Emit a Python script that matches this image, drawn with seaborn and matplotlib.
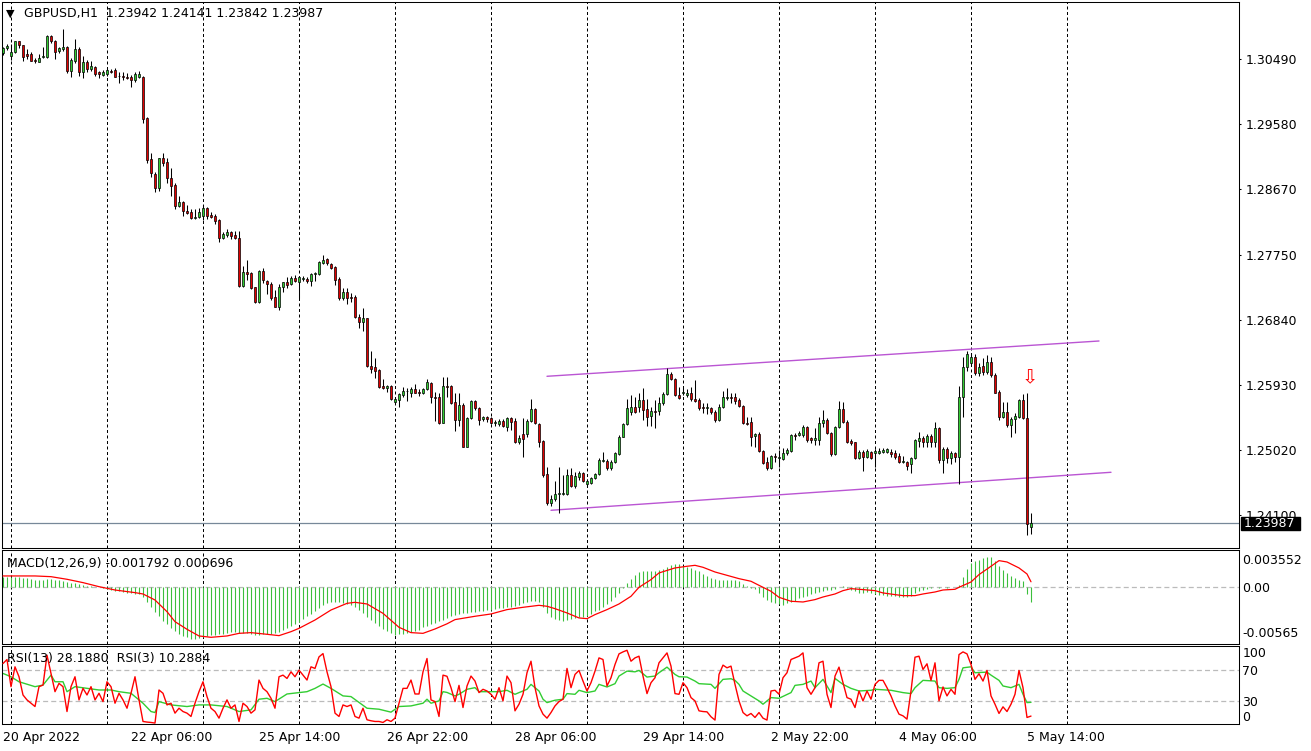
import numpy as np
import matplotlib
matplotlib.use("Agg")
import matplotlib.pyplot as plt
from matplotlib.patches import Rectangle
from matplotlib.transforms import IdentityTransform
import seaborn as sns

# ---------------- data ----------------
symbol_title = "GBPUSD,H1  1.23942 1.24141 1.23842 1.23987"
macd_title = "MACD(12,26,9) -0.001792 0.000696"
rsi_title = "RSI(13) 28.1880  RSI(3) 10.2884"

open_ = [
 1.30574,1.30644,1.30532,1.30588,1.30742,1.30686,1.30560,1.30560,1.30469,1.30448,
 1.30518,1.30518,1.30812,1.30742,1.30602,1.30630,1.30658,1.30322,1.30462,1.30630,
 1.30308,1.30448,1.30350,1.30378,1.30308,1.30266,1.30280,1.30322,1.30336,1.30252,
 1.30248,1.30238,1.30238,1.30196,1.30238,1.30238,1.29664,1.29090,1.28880,1.28684,
 1.29104,1.29048,1.28824,1.28726,1.28432,1.28488,1.28362,1.28348,1.28264,1.28278,
 1.28292,1.28404,1.28306,1.28292,1.28236,1.27984,1.28026,1.28068,1.28026,1.27984,
 1.27312,1.27508,1.27494,1.27298,1.27088,1.27522,1.27382,1.27340,1.27158,1.27018,
 1.27298,1.27368,1.27340,1.27424,1.27368,1.27410,1.27410,1.27382,1.27480,1.27480,
 1.27634,1.27690,1.27620,1.27578,1.27410,1.27144,1.27228,1.27158,1.27158,1.26878,
 1.26808,1.26864,1.26192,1.26178,1.26136,1.25912,1.25891,1.25912,1.25688,1.25716,
 1.25786,1.25842,1.25814,1.25870,1.25828,1.25814,1.25870,1.25954,1.25758,1.25758,
 1.25394,1.25912,1.25912,1.25688,1.25436,1.25646,1.25058,1.25464,1.25702,1.25604,
 1.25450,1.25478,1.25464,1.25394,1.25380,1.25422,1.25338,1.25464,1.25422,1.25128,
 1.25240,1.25240,1.25422,1.25590,1.25380,1.25142,1.24680,1.24274,1.24330,1.24400,
 1.24400,1.24400,1.24666,1.24512,1.24638,1.24694,1.24540,1.24554,1.24624,1.24680,
 1.24862,1.24862,1.24764,1.24848,1.24960,1.25198,1.25380,1.25548,1.25618,1.25618,
 1.25716,1.25590,1.25492,1.25562,1.25562,1.25674,1.25800,1.26080,1.26010,1.25786,
 1.25814,1.25786,1.25814,1.25730,1.25716,1.25618,1.25604,1.25604,1.25548,1.25436,
 1.25618,1.25744,1.25758,1.25758,1.25716,1.25632,1.25394,1.25408,1.25212,1.25240,
 1.25002,1.24848,1.24764,1.24932,1.24904,1.24890,1.24974,1.25002,1.25226,1.25226,
 1.25226,1.25338,1.25184,1.25156,1.25156,1.25394,1.25436,1.25254,1.24960,1.25338,
 1.25590,1.25408,1.25142,1.25128,1.24904,1.24988,1.24918,1.24988,1.24974,1.24974,
 1.24988,1.24988,1.24988,1.24974,1.24932,1.24848,1.24848,1.24820,1.24904,1.25142,
 1.25184,1.25128,1.25212,1.25128,1.25324,1.24876,1.25030,1.24904,1.24974,1.24918,
 1.25758,1.26178,1.26234,1.26318,1.26094,1.26192,1.26108,1.26248,1.26066,1.25828,
 1.25478,1.25548,1.25366,1.25450,1.25478,1.25716,1.25464,1.23942]

high = [
 1.30658,1.30700,1.30700,1.30749,1.30749,1.30690,1.30630,1.30588,1.30504,1.30560,
 1.30658,1.30826,1.30826,1.30756,1.30658,1.30910,1.30665,1.30504,1.30770,1.30658,
 1.30532,1.30476,1.30462,1.30392,1.30322,1.30336,1.30364,1.30350,1.30364,1.30308,
 1.30308,1.30294,1.30266,1.30308,1.30322,1.30252,1.29678,1.29174,1.28908,1.29111,
 1.29174,1.29104,1.28964,1.28754,1.28572,1.28495,1.28446,1.28390,1.28390,1.28404,
 1.28446,1.28418,1.28348,1.28320,1.28250,1.28068,1.28110,1.28082,1.28082,1.28082,
 1.27592,1.27676,1.27508,1.27305,1.27529,1.27564,1.27396,1.27368,1.27256,1.27340,
 1.27375,1.27438,1.27452,1.27466,1.27445,1.27452,1.27438,1.27494,1.27508,1.27655,
 1.27746,1.27704,1.27634,1.27592,1.27438,1.27284,1.27284,1.27214,1.27186,1.26920,
 1.27004,1.26871,1.26402,1.26304,1.26150,1.26010,1.25926,1.25919,1.25758,1.25814,
 1.25898,1.25884,1.25898,1.25940,1.25870,1.25884,1.26010,1.25968,1.25828,1.25814,
 1.26038,1.26038,1.25926,1.25814,1.25814,1.25674,1.25478,1.25716,1.25716,1.25618,
 1.25492,1.25492,1.25478,1.25436,1.25450,1.25450,1.25478,1.25478,1.25464,1.25226,
 1.25464,1.25450,1.25730,1.25597,1.25394,1.25156,1.24778,1.24386,1.24582,1.24778,
 1.24666,1.24750,1.24764,1.24708,1.24722,1.24708,1.24610,1.24638,1.24694,1.24904,
 1.24988,1.24890,1.24876,1.24981,1.25226,1.25394,1.25730,1.25786,1.25758,1.25814,
 1.25884,1.25730,1.25618,1.25716,1.25758,1.25828,1.26164,1.26108,1.26024,1.25898,
 1.25884,1.25870,1.25898,1.25996,1.25744,1.25674,1.25674,1.25618,1.25576,1.25660,
 1.25842,1.25884,1.25814,1.25814,1.25744,1.25646,1.25478,1.25478,1.25254,1.25268,
 1.25016,1.24918,1.24946,1.24974,1.25016,1.25044,1.25044,1.25240,1.25254,1.25282,
 1.25366,1.25352,1.25198,1.25324,1.25478,1.25576,1.25464,1.25268,1.25352,1.25702,
 1.25688,1.25436,1.25170,1.25135,1.25016,1.25016,1.25030,1.25002,1.25030,1.25044,
 1.25044,1.25044,1.25030,1.25016,1.24974,1.24932,1.24855,1.24918,1.25170,1.25268,
 1.25212,1.25240,1.25240,1.25408,1.25338,1.25058,1.25058,1.25002,1.24988,1.25912,
 1.26318,1.26402,1.26374,1.26360,1.26234,1.26304,1.26346,1.26318,1.26094,1.25856,
 1.25688,1.25688,1.25478,1.25534,1.25730,1.25800,1.25814,1.24141]

low = [
 1.30546,1.30616,1.30476,1.30574,1.30644,1.30462,1.30490,1.30455,1.30434,1.30441,
 1.30511,1.30504,1.30714,1.30490,1.30574,1.30602,1.30294,1.30238,1.30434,1.30252,
 1.30224,1.30308,1.30322,1.30252,1.30224,1.30252,1.30252,1.30294,1.30231,1.30154,
 1.30196,1.30210,1.30098,1.30168,1.30224,1.29594,1.29034,1.28838,1.28628,1.28642,
 1.28992,1.28754,1.28572,1.28390,1.28418,1.28292,1.28320,1.28250,1.28250,1.28271,
 1.28236,1.28250,1.28264,1.28180,1.27928,1.27970,1.27998,1.27970,1.27970,1.27298,
 1.27298,1.27396,1.27270,1.27074,1.27074,1.27354,1.27200,1.27116,1.27011,1.26976,
 1.27228,1.27284,1.27326,1.27368,1.27144,1.27382,1.27354,1.27312,1.27382,1.27466,
 1.27620,1.27606,1.27550,1.27326,1.27116,1.27116,1.27060,1.27088,1.26864,1.26724,
 1.26682,1.26185,1.26094,1.26024,1.25884,1.25870,1.25828,1.25716,1.25674,1.25618,
 1.25758,1.25702,1.25758,1.25807,1.25772,1.25800,1.25856,1.25674,1.25422,1.25380,
 1.25387,1.25758,1.25660,1.25282,1.25352,1.25051,1.25051,1.25450,1.25576,1.25366,
 1.25422,1.25408,1.25380,1.25352,1.25352,1.25338,1.25282,1.25296,1.25114,1.25100,
 1.24918,1.25198,1.25408,1.25380,1.25058,1.24638,1.24246,1.24232,1.24302,1.24134,
 1.24386,1.24386,1.24498,1.24484,1.24596,1.24568,1.24498,1.24540,1.24610,1.24666,
 1.24848,1.24736,1.24736,1.24834,1.24946,1.25191,1.25366,1.25506,1.25534,1.25548,
 1.25436,1.25352,1.25352,1.25324,1.25506,1.25646,1.25786,1.25996,1.25772,1.25730,
 1.25786,1.25758,1.25702,1.25688,1.25576,1.25534,1.25520,1.25520,1.25408,1.25422,
 1.25604,1.25716,1.25674,1.25660,1.25618,1.25380,1.25366,1.25072,1.25058,1.24988,
 1.24827,1.24736,1.24750,1.24848,1.24778,1.24876,1.24946,1.24988,1.25156,1.25212,
 1.25198,1.25128,1.25114,1.25086,1.25086,1.25338,1.25240,1.24932,1.24946,1.25324,
 1.25394,1.25114,1.25086,1.24890,1.24890,1.24722,1.24911,1.24890,1.24778,1.24960,
 1.24974,1.24974,1.24918,1.24890,1.24834,1.24834,1.24736,1.24694,1.24890,1.25058,
 1.25058,1.25058,1.25058,1.25058,1.24834,1.24694,1.24834,1.24820,1.24848,1.24540,
 1.25478,1.26122,1.26206,1.26066,1.26052,1.26066,1.26080,1.26038,1.25807,1.25436,
 1.25464,1.25338,1.25198,1.25254,1.25464,1.25450,1.23826,1.23842]

close = [
 1.30644,1.30672,1.30588,1.30742,1.30686,1.30518,1.30532,1.30462,1.30455,1.30504,
 1.30532,1.30812,1.30742,1.30588,1.30644,1.30658,1.30322,1.30476,1.30630,1.30308,
 1.30448,1.30350,1.30392,1.30280,1.30280,1.30308,1.30336,1.30315,1.30238,1.30248,
 1.30238,1.30217,1.30196,1.30280,1.30280,1.29650,1.29076,1.28894,1.28684,1.29104,
 1.29034,1.28824,1.28712,1.28432,1.28488,1.28362,1.28334,1.28264,1.28278,1.28348,
 1.28404,1.28292,1.28278,1.28222,1.27984,1.28040,1.28068,1.28012,1.27984,1.27312,
 1.27508,1.27480,1.27284,1.27088,1.27522,1.27396,1.27340,1.27144,1.27018,1.27298,
 1.27368,1.27326,1.27424,1.27382,1.27438,1.27424,1.27382,1.27480,1.27487,1.27648,
 1.27676,1.27634,1.27564,1.27396,1.27144,1.27228,1.27144,1.27151,1.26878,1.26808,
 1.26864,1.26192,1.26150,1.26122,1.25898,1.25891,1.25912,1.25730,1.25730,1.25800,
 1.25842,1.25835,1.25870,1.25814,1.25814,1.25870,1.25968,1.25758,1.25744,1.25394,
 1.25912,1.25905,1.25674,1.25436,1.25646,1.25058,1.25464,1.25702,1.25604,1.25436,
 1.25478,1.25450,1.25394,1.25408,1.25422,1.25352,1.25464,1.25408,1.25128,1.25184,
 1.25170,1.25422,1.25590,1.25394,1.25128,1.24666,1.24274,1.24330,1.24400,1.24414,
 1.24414,1.24666,1.24512,1.24652,1.24694,1.24582,1.24582,1.24624,1.24680,1.24876,
 1.24876,1.24764,1.24848,1.24974,1.25198,1.25380,1.25604,1.25618,1.25548,1.25716,
 1.25576,1.25478,1.25562,1.25555,1.25674,1.25800,1.26080,1.26010,1.25786,1.25744,
 1.25828,1.25814,1.25730,1.25702,1.25604,1.25597,1.25618,1.25548,1.25436,1.25618,
 1.25758,1.25758,1.25751,1.25702,1.25632,1.25394,1.25380,1.25198,1.25240,1.25002,
 1.24834,1.24764,1.24932,1.24925,1.24911,1.24974,1.25016,1.25226,1.25219,1.25254,
 1.25338,1.25156,1.25156,1.25184,1.25394,1.25436,1.25254,1.24960,1.25338,1.25590,
 1.25408,1.25128,1.25114,1.24904,1.24988,1.24918,1.25002,1.24904,1.25002,1.25002,
 1.25016,1.25030,1.24960,1.24918,1.24848,1.24862,1.24792,1.24904,1.25156,1.25184,
 1.25128,1.25212,1.25128,1.25324,1.24876,1.25030,1.24904,1.24974,1.24918,1.25758,
 1.26178,1.26360,1.26318,1.26094,1.26178,1.26108,1.26248,1.26066,1.25814,1.25478,
 1.25548,1.25366,1.25450,1.25492,1.25716,1.25464,1.23980,1.23987]

macd_hist = [
 0.00134,0.00134,0.00134,0.00130,0.00126,0.00122,0.00113,0.00101,0.00097,0.00092,
 0.00092,0.00101,0.00105,0.00092,0.00088,0.00076,0.00067,0.00059,0.00050,0.00038,
 0.00029,0.00021,0.00017,0.00008,0.00002,
 -0.00013,-0.00025,-0.00034,-0.00042,-0.00050,-0.00059,-0.00067,-0.00076,-0.00080,-0.00084,
 -0.00118,-0.00181,-0.00244,-0.00307,-0.00361,-0.00420,-0.00466,-0.00508,-0.00550,-0.00584,
 -0.00609,-0.00630,-0.00647,-0.00651,-0.00638,-0.00626,-0.00613,-0.00605,-0.00596,-0.00592,
 -0.00584,-0.00575,-0.00567,-0.00563,-0.00571,-0.00575,-0.00580,-0.00588,-0.00601,-0.00596,
 -0.00592,-0.00588,-0.00584,-0.00580,-0.00563,-0.00542,-0.00512,-0.00483,-0.00458,-0.00433,
 -0.00399,-0.00365,-0.00336,-0.00302,-0.00265,-0.00227,-0.00197,-0.00185,-0.00181,-0.00185,
 -0.00193,-0.00206,-0.00223,-0.00248,-0.00286,-0.00328,-0.00378,-0.00416,-0.00454,-0.00491,
 -0.00525,-0.00554,-0.00580,-0.00596,-0.00592,-0.00584,-0.00575,-0.00563,-0.00550,-0.00533,
 -0.00505,-0.00485,-0.00465,-0.00445,-0.00428,-0.00408,-0.00385,
 -0.00360,-0.00344,-0.00336,-0.00328,-0.00323,-0.00315,-0.00307,-0.00298,-0.00294,-0.00290,
 -0.00281,-0.00273,-0.00265,-0.00256,-0.00252,-0.00244,-0.00231,-0.00218,-0.00202,-0.00189,
 -0.00176,-0.00176,-0.00185,-0.00250,-0.00330,-0.00370,-0.00395,-0.00415,-0.00424,-0.00412,
 -0.00399,-0.00386,-0.00378,-0.00370,-0.00361,-0.00336,-0.00302,-0.00281,-0.00252,-0.00210,
 -0.00168,-0.00118,-0.00071,-0.00008,0.00055,0.00101,0.00151,0.00189,0.00202,0.00202,
 0.00202,0.00210,0.00223,0.00235,0.00260,0.00286,0.00294,0.00290,0.00265,0.00252,
 0.00244,0.00223,0.00202,0.00172,0.00143,0.00118,0.00101,0.00088,0.00092,0.00097,
 0.00097,0.00092,0.00084,0.00042,0.00013,-0.00008,-0.00025,-0.00071,-0.00122,-0.00155,
 -0.00185,-0.00197,-0.00210,-0.00218,-0.00202,-0.00181,-0.00168,-0.00139,-0.00126,-0.00105,
 -0.00088,-0.00071,-0.00055,-0.00042,-0.00034,-0.00029,-0.00017,0.00002,0.00017,-0.00008,
 -0.00029,-0.00050,-0.00067,-0.00071,-0.00059,-0.00071,-0.00088,-0.00092,-0.00101,-0.00109,
 -0.00113,-0.00113,-0.00118,-0.00118,-0.00118,-0.00109,-0.00076,-0.00046,-0.00029,-0.00017,
 -0.00008,0.00002,-0.00004,0.00001,-0.00004,0.00001,0.00002,0.00034,0.00126,0.00231,
 0.00302,0.00336,0.00349,0.00365,0.00378,0.00378,0.00328,0.00269,0.00223,0.00181,
 0.00143,0.00118,0.00097,0.00076,-0.00090,-0.001792]

signal_bars = [0, 8, 12, 16, 20, 24, 28, 33, 35, 38, 41, 43, 46, 49, 52, 56, 59, 62, 66, 69,
               72, 74, 78, 82, 86, 88, 91, 95, 99, 102, 105, 108, 111, 113, 118, 122, 126, 130,
               134, 136, 138, 141, 144, 146, 148, 151, 154, 157, 159, 162, 164, 168, 171, 173,
               175, 178, 181, 184, 187, 189, 192, 194, 197, 200, 203, 205, 208, 210, 212, 215,
               218, 220, 223, 225, 228, 230, 233, 235, 238, 239, 242, 244, 247, 249, 251, 254,
               256, 257]
signal_vals = [0.00143, 0.00143, 0.00134, 0.00101, 0.00059, 0.00008, -0.00034, -0.00067,
               -0.00084, -0.00160, -0.00307, -0.00433, -0.00529, -0.00613, -0.00630, -0.00613,
               -0.00580, -0.00571, -0.00592, -0.00609, -0.00559, -0.00517, -0.00412, -0.00286,
               -0.00202, -0.00189, -0.00210, -0.00328, -0.00504, -0.00571, -0.00580, -0.00525,
               -0.00460, -0.00407, -0.00365, -0.00336, -0.00281, -0.00252, -0.00227, -0.00239,
               -0.00269, -0.00323, -0.00386, -0.00395, -0.00344, -0.00281, -0.00210, -0.00113,
               0.00000, 0.00097, 0.00181, 0.00244, 0.00265, 0.00277, 0.00252, 0.00193, 0.00151,
               0.00109, 0.00076, 0.00025, -0.00050, -0.00126, -0.00176, -0.00185, -0.00155,
               -0.00122, -0.00084, -0.00042, -0.00017, -0.00029, -0.00042, -0.00071, -0.00092,
               -0.00105, -0.00105, -0.00084, -0.00059, -0.00034, -0.00025, 0.00000, 0.00067,
               0.00160, 0.00265, 0.00336, 0.00319, 0.00244, 0.00168, 0.000696]

rsi13_bars = [0, 2, 4, 8, 10, 12, 13, 15, 16, 18, 21, 24, 27, 29, 32, 35, 37, 38, 39, 42, 46,
              49, 52, 56, 59, 62, 64, 66, 68, 71, 74, 76, 78, 80, 82, 85, 87, 91, 94, 97, 99,
              102, 105, 106, 107, 109, 110, 111, 113, 114, 116, 118, 119, 122, 124, 126, 128,
              129, 131, 132, 134, 135, 136, 138, 140, 141, 143, 144, 146, 148, 149, 151, 153,
              154, 156, 158, 159, 161, 163, 164, 166, 168, 169, 171, 173, 174, 177, 178, 180,
              182, 183, 184, 185, 187, 189, 190, 192, 194, 197, 198, 200, 202, 203, 205, 207,
              208, 210, 212, 214, 217, 218, 222, 225, 227, 228, 230, 233, 234, 236, 238, 239,
              240, 242, 243, 246, 247, 249, 250, 252, 254, 255, 256, 257]
rsi13_vals = [65.7, 61.4, 54.9, 48.5, 50.6, 63.5, 54.9, 54.9, 42.0, 48.5, 46.3, 44.2, 44.2, 42.0,
              39.9, 27.0, 16.2, 14.9, 29.1, 24.8, 22.7, 24.8, 24.8, 22.7, 16.2, 18.4, 32.2, 33.4,
              29.1, 39.0, 40.8, 42.0, 46.3, 51.9, 46.3, 36.5, 35.6, 20.5, 19.2, 15.4, 22.7, 23.5,
              27.0, 32.2, 27.0, 30.0, 42.0, 41.0, 36.5, 38.6, 45.1, 47.2, 42.0, 42.0, 42.0, 43.8,
              38.6, 40.8, 45.1, 51.5, 42.9, 32.2, 27.8, 30.9, 32.2, 39.5, 38.6, 43.8, 40.8, 42.9,
              51.5, 48.1, 52.4, 62.3, 68.7, 67.8, 69.6, 61.0, 62.3, 66.6, 73.9, 64.4, 61.4, 61.0,
              55.8, 52.4, 51.5, 46.3, 58.0, 58.8, 56.7, 51.5, 42.9, 36.5, 30.0, 25.7, 34.3, 33.4,
              40.8, 50.2, 51.5, 55.8, 47.2, 58.0, 40.8, 59.2, 51.5, 46.3, 42.9, 43.8, 45.1, 43.8,
              40.8, 39.5, 47.2, 56.7, 55.8, 47.2, 46.3, 47.2, 58.0, 73.0, 74.3, 66.6, 67.4, 63.5,
              56.7, 49.4, 47.2, 51.5, 38.6, 27.8, 28.188]

rsi3_vals = [
 78.6,83.8,48.5,74.3,61.4,37.7,31.3,27.0,22.7,48.5,
 50.6,89.4,65.7,42.0,52.8,48.5,16.2,48.5,61.4,31.3,
 46.3,37.7,48.5,31.3,39.9,29.1,54.9,48.5,27.0,39.9,
 31.3,20.5,39.9,61.4,31.3,3.3,2.5,2.0,1.2,44.2,
 39.9,24.8,27.0,14.1,20.5,16.2,14.1,9.8,27.0,42.0,
 54.9,35.6,20.5,16.2,7.6,20.5,31.3,20.5,24.8,3.3,
 27.0,22.7,14.1,18.4,57.1,46.3,42.0,33.4,20.5,61.4,
 63.5,59.2,67.8,61.4,70.0,63.5,57.1,74.3,72.2,87.2,
 91.5,67.8,48.5,14.1,9.8,24.8,22.7,24.8,9.8,7.6,
 20.5,5.5,4.2,3.3,3.3,2.0,5.5,3.3,7.6,27.0,
 46.3,46.3,57.1,39.0,39.0,67.8,85.1,31.3,29.1,9.8,
 63.5,62.0,47.2,29.1,50.2,21.4,49.4,62.3,55.8,40.8,
 45.1,42.9,38.6,32.2,47.2,30.0,62.3,53.7,17.1,25.7,
 38.6,66.6,81.6,47.2,23.5,12.8,7.6,14.9,23.5,29.1,
 32.2,72.2,47.2,64.4,69.6,55.8,42.9,53.7,68.7,85.9,
 83.8,49.4,60.1,77.3,91.1,93.7,95.8,81.6,85.9,88.1,
 62.3,39.5,53.7,60.1,79.5,85.9,92.4,75.2,39.5,38.6,
 53.7,47.2,34.3,30.0,17.1,16.2,15.8,9.4,5.1,64.4,
 76.5,73.0,75.2,51.5,30.0,14.9,10.6,13.7,8.5,14.9,
 7.6,5.1,42.9,43.8,38.6,60.1,66.6,83.8,85.9,88.1,
 92.4,47.2,38.6,47.2,79.5,81.6,38.6,21.4,62.3,73.9,
 53.7,34.3,32.2,21.4,42.9,30.0,42.9,32.2,51.5,56.7,
 56.7,47.2,36.5,23.5,12.8,10.6,6.3,42.9,86.8,88.1,
 70.9,78.2,56.7,79.5,30.0,48.1,36.5,45.1,38.6,90.2,
 93.7,91.1,77.3,58.0,65.3,55.8,69.6,36.5,25.7,13.7,
 22.3,16.2,25.7,38.6,69.6,47.2,8.5,10.2884]

time_tick_bars = [0, 32, 64, 96, 128, 160, 192, 224, 256]
time_tick_labels = ["20 Apr 2022", "22 Apr 06:00", "25 Apr 14:00", "26 Apr 22:00",
                    "28 Apr 06:00", "29 Apr 14:00", "2 May 22:00", "4 May 06:00", "5 May 14:00"]
day_grid_bars = [2, 26, 50, 74, 98, 122, 146, 170, 194, 218, 242, 266]

price_ticks = [1.30490, 1.29580, 1.28670, 1.27750, 1.26840, 1.25930, 1.25020, 1.24100]
macd_ticks = [0.003552, 0.0, -0.00565]
macd_tick_labels = ["0.003552", "0.00", "-0.00565"]
rsi_ticks = [100, 70, 30, 0]
rsi_levels = [70, 30]

channel_upper_bars = [136, 274]
channel_upper_prices = [1.26048, 1.26542]
channel_lower_bars = [137, 277]
channel_lower_prices = [1.24172, 1.24704]
arrow_bar = 256.75
arrow_price = 1.26024
last_price = 1.23987

n = len(close)
for arr in (open_, high, low, macd_hist, rsi3_vals):
    assert len(arr) == n, len(arr)
assert len(signal_bars) == len(signal_vals)
assert len(rsi13_bars) == len(rsi13_vals), (len(rsi13_bars), len(rsi13_vals))

# ---------------- style ----------------
sns.set_style("white")
plt.rcParams["font.family"] = ["DejaVu Sans"]
plt.rcParams["axes.linewidth"] = 0.75
plt.rcParams["axes.edgecolor"] = "black"

W, H = 1311, 751
fig = plt.figure(figsize=(W / 100, H / 100), dpi=100, facecolor="white")


def rect(x0, y0, x1, y1):
    return [x0 / W, 1 - y1 / H, (x1 - x0) / W, (y1 - y0) / H]


ax1 = fig.add_axes(rect(2, 2, 1239, 548))
ax2 = fig.add_axes(rect(2, 550, 1239, 643.5))
ax3 = fig.add_axes(rect(2, 646, 1239, 724))

BULL = "#32CD32"
BEAR = "#E00000"
HIST = "#3CBF3C"
GRID_DASH = (0, (3, 2.5))

x = np.arange(n)
o = np.array(open_)
h = np.array(high)
l = np.array(low)
c = np.array(close)

for ax in (ax1, ax2, ax3):
    ax.set_xlim(-0.25, 309)
    ax.set_facecolor("white")
    for s in ax.spines.values():
        s.set_color("black")
        s.set_linewidth(0.75)
    for gb in day_grid_bars:
        ax.axvline(gb, color="black", lw=0.72, ls=GRID_DASH, zorder=0.5)

# ---- main price panel ----
ax1.set_ylim(1.23644, 1.31288)
ax1.axhline(last_price, color="#778899", lw=0.9, zorder=1.5)
sns.lineplot(x=channel_upper_bars, y=channel_upper_prices, ax=ax1, color="#BA55D3",
             linewidth=1.0, legend=False, zorder=2)
sns.lineplot(x=channel_lower_bars, y=channel_lower_prices, ax=ax1, color="#BA55D3",
             linewidth=1.0, legend=False, zorder=2)
ax1.vlines(x, l, h, color="black", linewidth=0.75, zorder=3)
up = c >= o
body_bottom = np.minimum(o, c)
body_h = np.maximum(np.abs(c - o), 0.000005)
ax1.bar(x, body_h, bottom=body_bottom, width=0.74, color=np.where(up, BULL, BEAR),
        edgecolor="black", linewidth=0.5, zorder=4)
ax1.text(arrow_bar, arrow_price, "\u21e9", color="red", fontsize=14, ha="center",
         va="center", zorder=5)

ax1.yaxis.tick_right()
ax1.set_yticks(price_ticks, labels=[f"{v:.5f}" for v in price_ticks])
ax1.tick_params(axis="y", length=1.5, width=0.75, pad=3.3, labelsize=9, colors="black")
ax1.tick_params(axis="x", bottom=False, labelbottom=False)
ax1.set_xlabel("")
ax1.set_ylabel("")

# ---- MACD panel ----
ax2.set_ylim(-0.00708, 0.0047)
ax2.axhline(0, color="#BBBBBB", lw=0.9, ls=(0, (4, 2.5)), zorder=1)
ax2.vlines(x, 0, macd_hist, color=HIST, linewidth=0.8, zorder=2)
sns.lineplot(x=signal_bars, y=signal_vals, ax=ax2, color="#FF0000", linewidth=0.9,
             legend=False, zorder=3)
ax2.yaxis.tick_right()
ax2.set_yticks(macd_ticks, labels=macd_tick_labels)
ax2.tick_params(axis="y", length=0, pad=2.5, labelsize=9, colors="black")
ax2.tick_params(axis="x", bottom=False, labelbottom=False)
ax2.set_xlabel("")
ax2.set_ylabel("")

# ---- RSI panel ----
ax3.set_ylim(0.71, 101.35)
for lv in rsi_levels:
    ax3.axhline(lv, color="#BBBBBB", lw=0.9, ls=(0, (4, 2.5)), zorder=1)
sns.lineplot(x=rsi13_bars, y=rsi13_vals, ax=ax3, color="#32CD32", linewidth=1.0,
             legend=False, zorder=2)
sns.lineplot(x=x, y=rsi3_vals, ax=ax3, color="#FF0000", linewidth=1.0, legend=False,
             zorder=3)
ax3.yaxis.tick_right()
ax3.set_yticks(rsi_ticks, labels=[str(v) for v in rsi_ticks])
ax3.tick_params(axis="y", length=0, pad=2.5, labelsize=9, colors="black")
rt = ax3.yaxis.get_major_ticks()
rt[0].label2.set_va("top")
rt[3].label2.set_va("bottom")
ax3.set_xticks(time_tick_bars, labels=time_tick_labels)
for lab in ax3.get_xticklabels():
    lab.set_ha("left")
ax3.tick_params(axis="x", length=3, width=0.75, pad=2, labelsize=9, colors="black",
                direction="out")
ax3.set_xlabel("")
ax3.set_ylabel("")

# ---- titles ----
fig.text(6 / W, 1 - 14 / H, "\u25bc", fontsize=8, va="center", ha="left", color="black")
fig.text(24 / W, 1 - 14 / H, symbol_title, fontsize=9, va="center", ha="left", color="black")
fig.text(7 / W, 1 - 563 / H, macd_title, fontsize=9, va="center", ha="left", color="black")
fig.text(7 / W, 1 - 658.5 / H, rsi_title, fontsize=9, va="center", ha="left", color="black")

# ---- bid label box (covers the lower price label, as in MT4) ----
fig.canvas.draw()
ypix = ax1.transData.transform((0, last_price))[1]
fig.add_artist(Rectangle((1240.7, ypix - 6.2), 59.3, 12.4, transform=IdentityTransform(),
                         facecolor="black", edgecolor="black", zorder=10))
fig.text(1243.5, ypix, f"{last_price:.5f}", transform=IdentityTransform(), fontsize=9,
         color="white", va="center", ha="left", zorder=11)

fig.savefig("out.png", dpi=100, facecolor="white")
